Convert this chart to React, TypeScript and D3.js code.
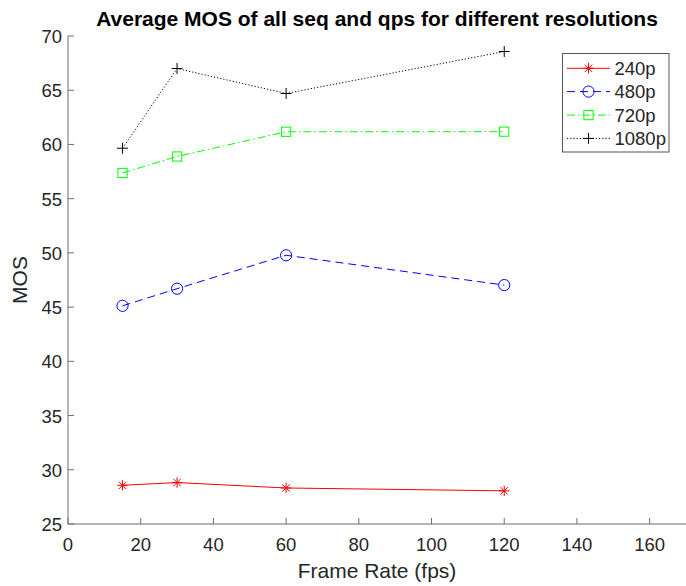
import React from "react";
import * as d3 from "d3";

const frameRates = [15, 30, 60, 120];
const mos240 = [28.57, 28.82, 28.32, 28.06];
const mos480 = [45.12, 46.7, 49.78, 47.03];
const mos720 = [57.37, 58.89, 61.17, 61.18];
const mos1080 = [59.65, 67.0, 64.7, 68.57];
const seriesNames = ["240p", "480p", "720p", "1080p"];
const xTicks = [0, 20, 40, 60, 80, 100, 120, 140, 160];
const yTicks = [25, 30, 35, 40, 45, 50, 55, 60, 65, 70];

const W = 686;
const H = 586;
const M = { left: 68, right: 0, top: 36, bottom: 62 };
const FONT = "'Liberation Sans', Arial, Helvetica, sans-serif";
const AXIS = "#6e6e6e";
const TXT = "#262626";

type Style = { color: string; dash: string | null; marker: string };
const styles: Style[] = [
  { color: "#ff0000", dash: null, marker: "asterisk" },
  { color: "#0000ff", dash: "8,5", marker: "circle" },
  { color: "#00ff00", dash: "8,3,1.5,3", marker: "square" },
  { color: "#000000", dash: "1.2,2", marker: "plus" },
];

function Marker({ kind, x, y, color }: { kind: string; x: number; y: number; color: string }) {
  const sw = 1;
  if (kind === "circle") return <circle cx={x} cy={y} r={5.6} fill="none" stroke={color} strokeWidth={sw} />;
  if (kind === "square") return <rect x={x - 4.6} y={y - 4.6} width={9.2} height={9.2} fill="none" stroke={color} strokeWidth={sw} />;
  if (kind === "plus")
    return (
      <g stroke={color} strokeWidth={sw}>
        <line x1={x - 5.5} y1={y} x2={x + 5.5} y2={y} />
        <line x1={x} y1={y - 5.5} x2={x} y2={y + 5.5} />
      </g>
    );
  const a = 5.2;
  const b = 3.7;
  return (
    <g stroke={color} strokeWidth={sw}>
      <line x1={x - a} y1={y} x2={x + a} y2={y} />
      <line x1={x} y1={y - a} x2={x} y2={y + a} />
      <line x1={x - b} y1={y - b} x2={x + b} y2={y + b} />
      <line x1={x - b} y1={y + b} x2={x + b} y2={y - b} />
    </g>
  );
}

export default function App() {
  const x = d3.scaleLinear().domain([0, 170]).range([M.left, W - M.right]);
  const y = d3.scaleLinear().domain([25, 70]).range([H - M.bottom, M.top]);
  const data = [mos240, mos480, mos720, mos1080];
  const line = d3
    .line<number>()
    .x((_, i) => x(frameRates[i]))
    .y((d) => y(d));
  const x0 = M.left;
  const y0 = H - M.bottom;
  const legendX = 562.5;
  const legendY = 53.5;
  const legendW = 106.5;
  const legendH = 98.5;
  const rowY = [68.3, 91.6, 115.1, 138.4];

  return (
    <svg width={W} height={H} style={{ position: "absolute", left: 0, top: 0, background: "#fff" }} fontFamily={FONT}>
      <rect x={0} y={0} width={W} height={H} fill="#fff" />
      {data.map((vals, si) => (
        <g key={seriesNames[si]}>
          <path d={line(vals) || ""} fill="none" stroke={styles[si].color} strokeWidth={1} strokeDasharray={styles[si].dash || undefined} />
          {vals.map((v, i) => (
            <Marker key={i} kind={styles[si].marker} x={x(frameRates[i])} y={y(v)} color={styles[si].color} />
          ))}
        </g>
      ))}
      {/* axes */}
      <line x1={x0} y1={M.top} x2={x0} y2={y0} stroke={AXIS} strokeWidth={1} />
      <line x1={x0} y1={y0} x2={W} y2={y0} stroke={AXIS} strokeWidth={1} />
      {yTicks.map((t) => (
        <g key={"y" + t}>
          <line x1={x0} y1={y(t)} x2={x0 + 6} y2={y(t)} stroke={AXIS} strokeWidth={1} />
          <text x={x0 - 6} y={y(t) + 7} textAnchor="end" fontSize={18.5} fill={TXT}>
            {t}
          </text>
        </g>
      ))}
      {xTicks.map((t) => (
        <g key={"x" + t}>
          <line x1={x(t)} y1={y0} x2={x(t)} y2={y0 - 6} stroke={AXIS} strokeWidth={1} />
          <text x={x(t)} y={551} textAnchor="middle" fontSize={18.5} fill={TXT}>
            {t}
          </text>
        </g>
      ))}
      <text x={(x0 + W) / 2} y={578} textAnchor="middle" fontSize={21} fill={TXT}>
        Frame Rate (fps)
      </text>
      <text transform={`translate(27,${(M.top + y0) / 2}) rotate(-90)`} textAnchor="middle" fontSize={21} fill={TXT}>
        MOS
      </text>
      <text x={(x0 + W) / 2} y={26} textAnchor="middle" fontSize={21} fontWeight="bold" fill="#000">
        Average MOS of all seq and qps for different resolutions
      </text>
      {/* legend */}
      <rect x={legendX} y={legendY} width={legendW} height={legendH} fill="#fff" stroke="#555" strokeWidth={1} />
      {seriesNames.map((name, si) => (
        <g key={name}>
          <line x1={567} y1={rowY[si]} x2={610} y2={rowY[si]} stroke={styles[si].color} strokeWidth={1} strokeDasharray={styles[si].dash || undefined} />
          <Marker kind={styles[si].marker} x={588.5} y={rowY[si]} color={styles[si].color} />
          <text x={614.5} y={rowY[si] + 6.5} fontSize={18.5} fill={TXT}>
            {name}
          </text>
        </g>
      ))}
    </svg>
  );
}
